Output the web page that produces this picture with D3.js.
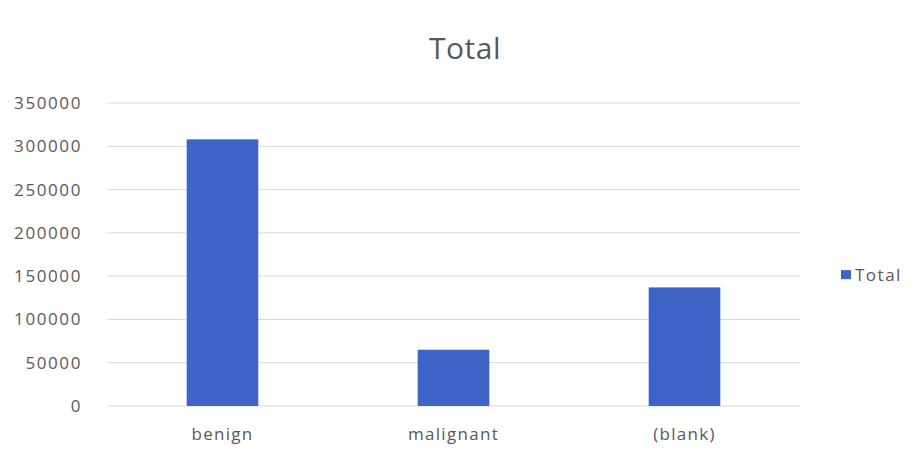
<!DOCTYPE html>
<html>
<head>
<meta charset="utf-8">
<script src="https://cdn.jsdelivr.net/npm/d3@7"></script>
<style>
  body { margin: 0; background: #fff; }
  text { font-family: "Open Sans", sans-serif; fill: #595959; }
</style>
</head>
<body>
<div id="chart"></div>
<script>
  var categories = ['benign', 'malignant', '(blank)'];
  var totals = [308000, 65000, 137000];
  var yTicks = [0, 50000, 100000, 150000, 200000, 250000, 300000, 350000];
  var seriesName = 'Total';

  var data = categories.map((c, i) => ({ name: c, value: totals[i] }));

  var margin = { top: 103, left: 107, bottom: 46, right: 112 },
    width = 912 - margin.left - margin.right,
    height = 452 - margin.top - margin.bottom;

  var root = d3.select('#chart').append('svg')
    .attr('width', 912)
    .attr('height', 452);

  var svg = root.append('g')
    .attr('transform', 'translate(' + margin.left + ',' + margin.top + ')');

  var x = d3.scaleBand()
    .domain(categories)
    .range([0, width])
    .paddingInner(0.69)
    .paddingOuter(0.345);

  var y = d3.scaleLinear()
    .domain([0, 350000])
    .range([height, 0]);

  // gridlines
  svg.selectAll('.grid')
    .data(yTicks)
    .enter()
    .append('line')
    .attr('class', 'grid')
    .attr('x1', 0)
    .attr('x2', width)
    .attr('y1', d => y(d))
    .attr('y2', d => y(d))
    .attr('stroke', '#d9d9d9')
    .attr('stroke-width', 1);

  // y labels
  var yAxis = d3.axisLeft(y).tickValues(yTicks).tickSize(0).tickPadding(25).tickFormat(d3.format('d'));
  var yg = svg.append('g').call(yAxis);
  yg.select('.domain').remove();
  yg.selectAll('text')
    .style('font-size', '17px')
    .style('letter-spacing', '1.6px')
    .attr('fill', '#595959');

  // bars
  svg.selectAll('.bar')
    .data(data)
    .enter()
    .append('rect')
    .attr('class', 'bar')
    .attr('x', d => x(d.name))
    .attr('y', d => y(d.value))
    .attr('width', x.bandwidth())
    .attr('height', d => height - y(d.value))
    .attr('fill', '#3e64c8');

  // x labels
  var xAxis = d3.axisBottom(x).tickSize(0).tickPadding(22);
  var xg = svg.append('g')
    .attr('transform', 'translate(0,' + height + ')')
    .call(xAxis);
  xg.select('.domain').remove();
  xg.selectAll('text')
    .style('font-size', '17px')
    .style('letter-spacing', '1.3px')
    .attr('fill', '#595959');

  // title
  root.append('text')
    .attr('x', 465)
    .attr('y', 59)
    .attr('text-anchor', 'middle')
    .style('font-size', '30px')
    .style('letter-spacing', '0.5px')
    .text(seriesName);

  // legend
  var legend = root.append('g')
    .attr('transform', 'translate(841,' + (margin.top + y(150000) - 6) + ')');
  legend.append('rect')
    .attr('width', 10)
    .attr('height', 9)
    .attr('fill', '#3e64c8');
  legend.append('text')
    .attr('x', 14)
    .attr('y', 11)
    .style('font-size', '17px')
    .style('letter-spacing', '1.5px')
    .text(seriesName);
</script>
</body>
</html>
